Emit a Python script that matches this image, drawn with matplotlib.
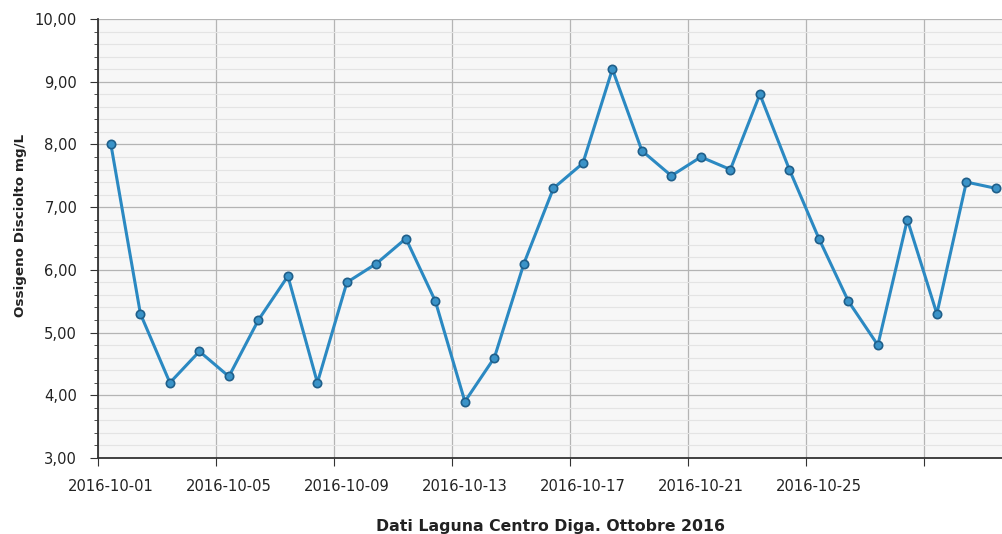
import matplotlib
matplotlib.use("Agg")
import matplotlib.pyplot as plt
from matplotlib.ticker import MultipleLocator, FuncFormatter
from matplotlib.transforms import ScaledTranslation
import pandas as pd

# misure giornaliere, ottobre 2016
giorni = pd.date_range("2016-10-01 10:30", periods=31, freq="D")
ossigeno = [8.0, 5.3, 4.2, 4.7, 4.3, 5.2, 5.9, 4.2, 5.8, 6.1, 6.5, 5.5, 3.9, 4.6,
            6.1, 7.3, 7.7, 9.2, 7.9, 7.5, 7.8, 7.6, 8.8, 7.6, 6.5, 5.5, 4.8, 6.8,
            5.3, 7.4, 7.3]
tick_date = pd.date_range("2016-10-01", "2016-10-29", freq="4D")
tick_labels = ["2016-10-01", "2016-10-05", "2016-10-09", "2016-10-13",
               "2016-10-17", "2016-10-21", "2016-10-25", ""]

plt.rcParams["font.family"] = ["DejaVu Sans"]

fig = plt.figure(figsize=(10.02, 5.34), dpi=100)
ax = fig.add_axes([98 / 1002, 1 - 458 / 534, 1 - 98 / 1002, (458 - 19) / 534])
ax.set_facecolor("#f7f7f7")

ax.plot(giorni, ossigeno, color="#2b89c2", lw=2.2, marker="o", ms=6,
        mfc="#3a93c8", mec="#1f5f8a", mew=1.2, zorder=3)

ax.set_ylim(3, 10)
ax.set_xlim(pd.Timestamp("2016-10-01"), pd.Timestamp("2016-10-31 15:30"))
ax.yaxis.set_major_locator(MultipleLocator(1))
ax.yaxis.set_minor_locator(MultipleLocator(0.2))
ax.yaxis.set_major_formatter(FuncFormatter(lambda v, p: f"{v:.2f}".replace(".", ",")))
ax.set_xticks(tick_date)
ax.set_xticklabels(tick_labels)

ax.grid(True, which="major", color="#b4b4b4", lw=0.9)
ax.grid(True, which="minor", axis="y", color="#e4e4e4", lw=0.8)
ax.axhline(10, color="#b4b4b4", lw=1.2, zorder=1)
ax.set_axisbelow(True)

for s in ["top", "right"]:
    ax.spines[s].set_visible(False)
for s in ["left", "bottom"]:
    ax.spines[s].set_color("#333333")
    ax.spines[s].set_linewidth(1.3)

ax.tick_params(axis="both", which="major", length=6, color="#333333",
               labelsize=10.6, labelcolor="#222222")
ax.tick_params(axis="y", which="minor", length=3, color="#333333")
ax.tick_params(axis="x", pad=9)
ax.tick_params(axis="y", pad=9)

# etichette delle date spostate verso destra come nell'originale
sposta = ScaledTranslation(13 / 100, 0, fig.dpi_scale_trans)
for lab in ax.get_xticklabels():
    lab.set_transform(lab.get_transform() + sposta)

ax.set_ylabel("Ossigeno Disciolto mg/L", fontsize=9.7, fontweight="bold",
              color="#222222")
ax.yaxis.set_label_coords(-0.079, 0.53)
ax.set_xlabel("Dati Laguna Centro Diga. Ottobre 2016", fontsize=11.3,
              fontweight="bold", color="#222222", labelpad=18)

fig.savefig("out.png", dpi=100)
